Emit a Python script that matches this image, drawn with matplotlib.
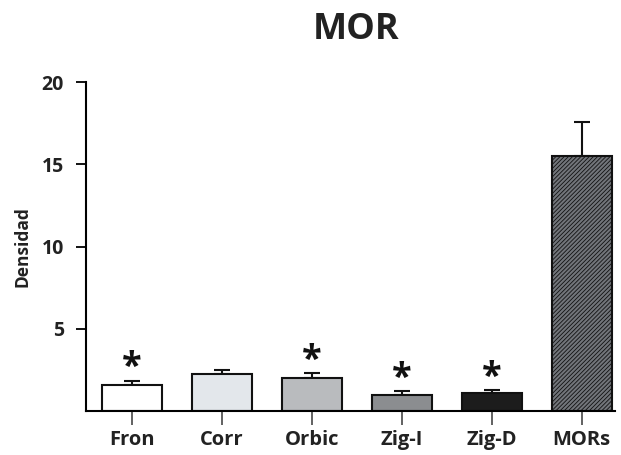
import matplotlib.pyplot as plt
import numpy as np

# densidad por region
regiones = ["Fron", "Corr", "Orbic", "Zig-I", "Zig-D", "MORs"]
medias = [1.58, 2.23, 2.0, 0.97, 1.07, 15.5]
errores = [0.26, 0.28, 0.29, 0.23, 0.2, 2.05]
significativo = [True, False, True, True, True, False]
colores = ["#ffffff", "#e3e7eb", "#b9bbbe", "#8b8d90", "#1c1c1c", "#72757a"]

plt.rcParams['font.family'] = ['Open Sans', 'DejaVu Sans']
plt.rcParams['hatch.color'] = '#a8abae'
plt.rcParams['hatch.linewidth'] = 0.6

fig = plt.figure(figsize=(6.21, 4.55), dpi=100)
ax = fig.add_axes([86/621, 44/455, 529/621, 329/455])

x = np.arange(len(regiones))
barras = ax.bar(x, medias, width=0.667, color=colores, edgecolor="#111111",
                linewidth=1.5, zorder=2)
barras[-1].set_hatch("////////")

ax.errorbar(x, medias, yerr=[np.zeros(len(errores)), errores], fmt="none",
            ecolor="#111111", elinewidth=1.5, capsize=5.5, capthick=1.5, zorder=1)

for i in range(len(regiones)):
    if significativo[i]:
        ax.annotate("*", (x[i], medias[i] + errores[i]), xytext=(0, -4),
                    textcoords="offset points", ha="center", va="bottom",
                    fontsize=26, fontweight="bold", color="#111111")

ax.set_xlim(-0.508, 5.37)
ax.set_ylim(0, 20)
ax.set_yticks([5, 10, 15, 20])
ax.set_xticks(x)
ax.set_xticklabels(regiones, fontsize=14.5, fontweight="bold", color="#222222")
ax.tick_params(axis="y", labelsize=14, length=7, width=1.3, pad=9,
               labelcolor="#222222")
for t in ax.get_yticklabels():
    t.set_fontweight("bold")
ax.tick_params(axis="x", length=10, width=1.3, pad=4, color="#555555")

for lado in ["top", "right"]:
    ax.spines[lado].set_visible(False)
ax.spines["left"].set_linewidth(1.5)
ax.spines["bottom"].set_linewidth(1.5)

ax.set_ylabel("Densidad", fontsize=12.5, fontweight="bold", color="#222222",
              labelpad=7)
fig.text(356/621, 1 - 30/455, "MOR", ha="center", va="center",
         fontsize=26, fontweight="bold", color="#222222")

fig.savefig("out.png", dpi=100)
